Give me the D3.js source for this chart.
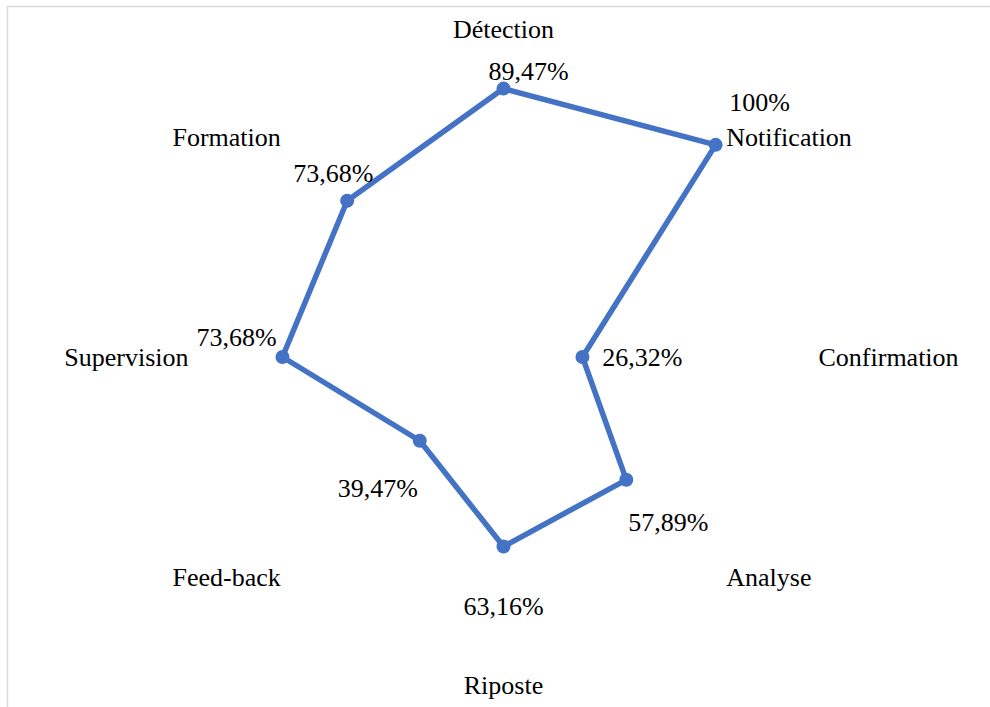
<!DOCTYPE html>
<html>
<head>
<meta charset="utf-8">
<script src="https://cdn.jsdelivr.net/npm/d3@7"></script>
<style>
  body { margin: 0; background: #fff; }
  svg text { font-family: "Liberation Serif"; font-size: 26px; fill: #000; }
</style>
</head>
<body>
<svg width="990" height="707"></svg>
<script>
// categories, clockwise from the top
const categories = ['Détection', 'Notification', 'Confirmation', 'Analyse', 'Riposte', 'Feed-back', 'Supervision', 'Formation'];
// series values (%)
const values = [89.47, 100, 26.32, 57.89, 63.16, 39.47, 73.68, 73.68];
const valueLabels = ['89,47%', '100%', '26,32%', '57,89%', '63,16%', '39,47%', '73,68%', '73,68%'];

// where each data label sits relative to its point (moved by hand in the original)
const labelShift = [[25, -17], [44, -42], [60, 0], [42, 43], [0, 60], [-42, 48], [-46, -20], [-14, -27]];

const cx = 503.5, cy = 357;
const svg = d3.select("svg");

// frame
svg.append("rect")
    .attr("x", 7.5)
    .attr("y", 6.5)
    .attr("width", 1000)
    .attr("height", 720)
    .attr("fill", "none")
    .attr("stroke", "#d9d9d9")
    .attr("stroke-width", 1.5);

const r = d3.scaleLinear().domain([0, 100]).range([0, 300]);
const angle = d3.scaleLinear().domain([0, categories.length]).range([0, 2 * Math.PI]);

const g = svg.append("g").attr("transform", `translate(${cx},${cy})`);

function px(i, rad) { return rad * Math.sin(angle(i)); }
function py(i, rad) { return -rad * Math.cos(angle(i)); }

// category labels
g.selectAll("text.cat")
    .data(categories)
    .enter()
    .append("text")
    .attr("class", "cat")
    .attr("x", (d, i) => px(i, r(105)))
    .attr("y", (d, i) => {
        const s = Math.sin(angle(i)), c = Math.cos(angle(i));
        let y = py(i, r(105));
        if (Math.abs(s) < 0.1) y += -Math.sign(c) * 13;
        if (Math.abs(c) > 0.1 && Math.abs(s) > 0.1) y = -Math.sign(c) * 220;
        return y;
    })
    .attr("dominant-baseline", "central")
    .attr("text-anchor", (d, i) => {
        const s = Math.sin(angle(i));
        return s > 0.1 ? "start" : (s < -0.1 ? "end" : "middle");
    })
    .text(d => d);

// series line
const line = d3.lineRadial()
    .angle((d, i) => angle(i))
    .radius(d => r(d))
    .curve(d3.curveLinearClosed);

g.append("path")
    .datum(values)
    .attr("d", line)
    .attr("fill", "none")
    .attr("stroke", "#4472C4")
    .attr("stroke-width", 5.5)
    .attr("stroke-linejoin", "round");

// markers
g.selectAll("circle")
    .data(values)
    .enter()
    .append("circle")
    .attr("cx", (d, i) => px(i, r(d)))
    .attr("cy", (d, i) => py(i, r(d)))
    .attr("r", 7)
    .attr("fill", "#4472C4");

// data labels
g.selectAll("text.val")
    .data(values)
    .enter()
    .append("text")
    .attr("class", "val")
    .attr("x", (d, i) => px(i, r(d)) + labelShift[i][0])
    .attr("y", (d, i) => py(i, r(d)) + labelShift[i][1])
    .attr("text-anchor", "middle")
    .attr("dominant-baseline", "central")
    .text((d, i) => valueLabels[i]);
</script>
</body>
</html>
